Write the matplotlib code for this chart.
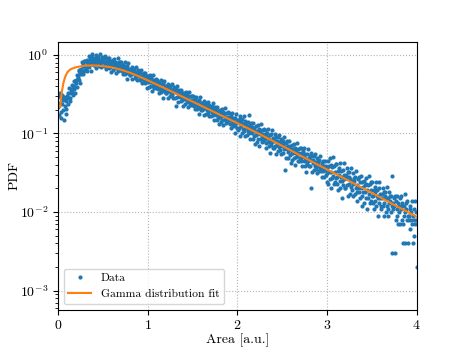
import numpy as np
import matplotlib
matplotlib.use("Agg")
import matplotlib.pyplot as plt

plt.rcParams.update({
    "font.family": "serif",
    "font.serif": ["cmr10"],
    "mathtext.fontset": "cm",
    "axes.formatter.use_mathtext": True,
    "font.size": 10,
})

# Histogram counts per bin (bin width 0.005, bins ending at 0.005 ... 4.0)
counts = [
    215, 300, 170, 325, 245, 190, 280, 155, 310, 235, 200, 265, 295, 150, 225, 285, 205, 175, 260, 300,
    286, 240, 328, 283, 383, 283, 325, 257, 372, 336, 412, 335, 399, 313, 470, 398, 363, 461, 326, 474,
    437, 554, 396, 538, 505, 647, 478, 631, 439, 593, 663, 567, 818, 629, 570, 776, 721, 625, 844, 684,
    838, 715, 668, 805, 633, 855, 808, 745, 958, 700, 820, 894, 793, 632, 927, 764, 1021, 821, 879, 740,
    742, 905, 856, 783, 987, 683, 943, 821, 889, 951, 721, 865, 798, 1013, 759, 868, 696, 948, 824, 900,
    856, 719, 912, 783, 982, 743, 822, 659, 875, 786, 910, 746, 844, 677, 920, 781, 710, 842, 607, 798,
    733, 867, 640, 802, 744, 892, 673, 824, 594, 745, 794, 681, 903, 706, 633, 803, 737, 647, 819, 678,
    810, 678, 622, 735, 567, 752, 698, 633, 801, 577, 666, 718, 628, 496, 721, 589, 781, 623, 664, 555,
    552, 668, 626, 569, 711, 489, 671, 582, 626, 668, 503, 602, 551, 698, 520, 594, 474, 644, 557, 607,
    575, 482, 609, 521, 651, 492, 541, 433, 572, 513, 591, 483, 544, 435, 589, 498, 451, 533, 383, 501,
    449, 539, 386, 493, 454, 553, 405, 506, 352, 451, 483, 407, 555, 423, 375, 485, 441, 380, 494, 400,
    484, 399, 363, 437, 329, 448, 413, 372, 482, 337, 394, 428, 371, 286, 433, 347, 472, 370, 397, 326,
    325, 400, 374, 336, 430, 285, 405, 346, 376, 403, 296, 360, 328, 425, 307, 356, 279, 390, 333, 366,
    346, 284, 369, 222, 398, 292, 325, 254, 346, 307, 360, 288, 329, 257, 360, 299, 268, 323, 225, 303,
    275, 330, 236, 302, 278, 338, 248, 309, 215, 276, 296, 249, 339, 258, 228, 296, 269, 231, 301, 245,
    298, 246, 223, 268, 202, 276, 253, 228, 295, 206, 241, 262, 226, 175, 263, 212, 288, 225, 241, 198,
    197, 243, 227, 203, 261, 173, 244, 209, 226, 243, 178, 216, 197, 255, 184, 214, 167, 233, 198, 219,
    207, 168, 221, 185, 243, 174, 194, 148, 208, 182, 217, 171, 197, 150, 218, 179, 158, 194, 131, 181,
    163, 200, 138, 182, 166, 206, 147, 188, 127, 166, 180, 149, 209, 156, 137, 181, 164, 139, 185, 148,
    183, 148, 133, 163, 119, 168, 153, 136, 181, 123, 145, 158, 136, 102, 159, 126, 175, 134, 145, 118,
    112, 150, 136, 118, 165, 94, 152, 123, 138, 152, 100, 130, 115, 165, 106, 130, 93, 146, 119, 135,
    125, 96, 138, 109, 170, 100, 117, 84, 128, 109, 135, 100, 120, 86, 136, 106, 92, 119, 73, 109,
    95, 124, 78, 109, 99, 129, 84, 115, 70, 98, 109, 86, 131, 91, 77, 110, 97, 80, 113, 86,
    112, 86, 76, 98, 66, 101, 91, 78, 113, 69, 85, 96, 78, 56, 97, 71, 110, 78, 87, 66,
    66, 88, 80, 69, 98, 55, 90, 72, 81, 89, 59, 77, 68, 96, 62, 76, 55, 86, 70, 79,
    74, 56, 81, 63, 90, 34, 68, 48, 75, 63, 79, 58, 70, 49, 79, 61, 53, 69, 42, 63,
    56, 71, 46, 63, 57, 74, 49, 65, 40, 57, 62, 50, 75, 52, 45, 63, 56, 45, 65, 49,
    65, 49, 44, 57, 38, 59, 52, 45, 65, 39, 49, 54, 45, 32, 55, 41, 63, 44, 49, 38,
    38, 51, 46, 20, 56, 32, 51, 42, 46, 51, 34, 43, 39, 55, 35, 43, 31, 48, 39, 45,
    42, 33, 46, 36, 51, 33, 39, 28, 42, 36, 45, 33, 39, 28, 45, 34, 30, 39, 24, 36,
    31, 44, 23, 38, 32, 48, 26, 40, 20, 32, 37, 27, 50, 29, 23, 39, 32, 24, 41, 27,
    41, 28, 23, 33, 19, 36, 30, 25, 42, 20, 28, 33, 25, 15, 34, 22, 42, 26, 30, 20,
    20, 30, 27, 22, 36, 16, 32, 23, 28, 32, 17, 26, 21, 36, 19, 25, 16, 31, 23, 27,
    25, 17, 28, 20, 33, 18, 22, 14, 26, 20, 28, 18, 24, 15, 29, 20, 16, 24, 12, 21,
    18, 25, 13, 22, 18, 27, 15, 23, 11, 19, 22, 15, 29, 17, 13, 23, 19, 14, 24, 16,
    24, 16, 13, 19, 11, 21, 18, 14, 24, 12, 16, 19, 15, 9, 20, 13, 24, 15, 17, 12,
    11, 17, 15, 12, 20, 9, 18, 13, 16, 18, 10, 15, 12, 21, 11, 15, 9, 18, 13, 16,
    14, 10, 16, 12, 29, 3, 13, 11, 15, 12, 16, 3, 14, 8, 16, 11, 9, 13, 7, 12,
    10, 15, 7, 12, 11, 16, 8, 13, 7, 4, 12, 9, 17, 10, 4, 13, 11, 8, 14, 9,
    4, 9, 8, 11, 6, 12, 10, 8, 14, 7, 9, 4, 8, 5, 11, 7, 14, 8, 10, 2,
]
n_samples = 200000
bin_width = 0.005

# Gamma distribution fit curve
fit_x = [0.027, 0.035, 0.045, 0.06, 0.075, 0.09, 0.11, 0.14, 0.19, 0.25, 0.30,
         0.38, 0.45, 0.55, 0.61, 0.70, 0.80, 0.90, 1.00, 1.25, 1.50, 1.75, 2.00,
         2.25, 2.50, 2.75, 3.00, 3.25, 3.50, 3.75, 4.00]
fit_y = [0.218, 0.28, 0.34, 0.43, 0.50, 0.555, 0.61, 0.655, 0.69, 0.715, 0.73,
         0.735, 0.73, 0.71, 0.69, 0.65, 0.595, 0.535, 0.475, 0.35, 0.255, 0.1855,
         0.1355, 0.098, 0.0695, 0.049, 0.0348, 0.0247, 0.0175, 0.0123, 0.0087]

counts_arr = np.asarray(counts, dtype=float)
x = bin_width * np.arange(1, len(counts_arr) + 1)
pdf = counts_arr / (n_samples * bin_width)

fig, ax = plt.subplots(figsize=(4.63, 3.48), dpi=100)
ax.plot(x, pdf, ".", ms=4, color="tab:blue", label="Data", zorder=2)
ax.plot(fit_x, fit_y, "-", color="tab:orange", lw=1.5,
        label="Gamma distribution fit", zorder=3)
ax.set_yscale("log")
ax.set_xlim(0, 4)
ax.set_ylim(5.7e-4, 1.47)
ax.set_xticks([0, 1, 2, 3, 4])
ax.grid(True, which="major", linestyle=":", color="0.7", lw=0.8)
ax.set_xlabel("Area [a.u.]", labelpad=1)
ax.set_ylabel("PDF", labelpad=-0.5)
ax.legend(loc="lower left", fontsize="small")
fig.savefig("out.png", dpi=100)
